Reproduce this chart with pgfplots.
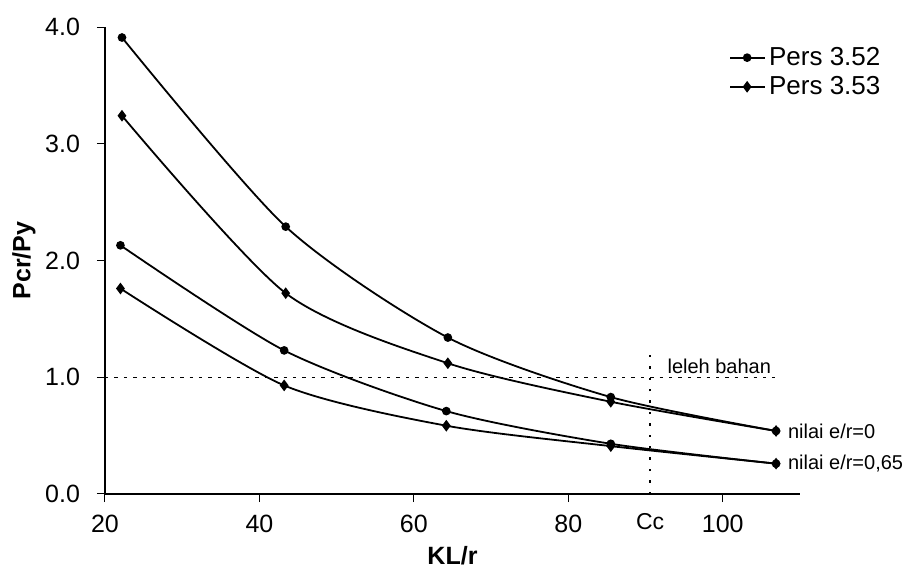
\documentclass[border=0pt]{standalone}
\usepackage{fontspec}
\setmainfont{Liberation Sans}
\usepackage{pgfplots}
\pgfplotsset{compat=1.18}
\begin{document}
\begin{tikzpicture}
\begin{axis}[name=ax, scale only axis, width=347.5pt, height=233.5pt,
  xmin=20, xmax=110, ymin=0, ymax=4,
  axis lines=left, axis line style={-, line width=0.6pt},
  xtick={20,40,60,80,100}, ytick={0,1,2,3,4},
  extra x ticks={90.6}, extra x tick labels={Cc},
  extra x tick style={tick style={draw=none}, xticklabel style={font=\fontsize{11.5}{13}\selectfont, yshift=1pt}},
  tick align=outside, major tick length=4pt, tick style={line width=0.5pt, black},
  /pgf/number format/assume math mode=true,
  yticklabel style={/pgf/number format/fixed, /pgf/number format/fixed zerofill, /pgf/number format/precision=1},
  tick label style={font=\fontsize{12.5}{14}\selectfont},
  xticklabel style={yshift=-3pt},
  yticklabel style={xshift=-5pt},
  xlabel={KL/r}, ylabel={Pcr/Py},
  label style={font=\fontsize{12.5}{14}\selectfont\bfseries},
  xlabel style={yshift=8pt},
  ylabel style={yshift=-2pt},
  legend style={draw=none, fill=none, at={(axis cs:100,3.9)}, anchor=north west,
    font=\fontsize{13}{15}\selectfont, row sep=0pt},
  legend cell align=left,
  clip=false,
]
% reference lines
\addplot[forget plot, black, line width=0.5pt, dash pattern=on 1.7pt off 3pt] coordinates {(20,1) (106.8,1)};
\addplot[forget plot, black, line width=1.2pt, dash pattern=on 1.2pt off 4.5pt] coordinates {(90.6,0) (90.6,1.2)};
% e/r = 0
\addplot[black, line width=0.9pt, smooth, tension=0.45, mark=*, mark size=1.7pt] coordinates {(22.2,3.91) (43.4,2.29) (64.4,1.34) (85.5,0.83) (106.9,0.54)};
\addlegendentry{Pers 3.52}
\addplot[black, line width=0.9pt, smooth, tension=0.45, mark=diamond*, mark size=2.2pt] coordinates {(22.2,3.24) (43.4,1.72) (64.4,1.12) (85.5,0.79) (106.9,0.54)};
\addlegendentry{Pers 3.53}
% e/r = 0,65
\addplot[forget plot, black, line width=0.9pt, smooth, tension=0.45, mark=*, mark size=1.7pt] coordinates {(22.0,2.13) (43.2,1.23) (64.2,0.71) (85.5,0.43) (106.9,0.26)};
\addplot[forget plot, black, line width=0.9pt, smooth, tension=0.45, mark=diamond*, mark size=2.2pt] coordinates {(22.0,1.76) (43.2,0.93) (64.2,0.585) (85.5,0.41) (106.9,0.26)};
\node[anchor=south west, inner sep=0pt, font=\fontsize{10}{12}\selectfont] at (axis cs:92.8,1.03) {leleh bahan};
\node[anchor=west, inner sep=0pt, font=\fontsize{10}{12}\selectfont] at (axis cs:108.4,0.54) {nilai e/r=0};
\node[anchor=west, inner sep=0pt, font=\fontsize{10}{12}\selectfont] at (axis cs:108.4,0.26) {nilai e/r=0,65};
\end{axis}
\pgfresetboundingbox
\path (ax.south west) ++(-52.5pt,-39.5pt) rectangle ++(455.5pt,286.5pt);
\end{tikzpicture}
\end{document}
